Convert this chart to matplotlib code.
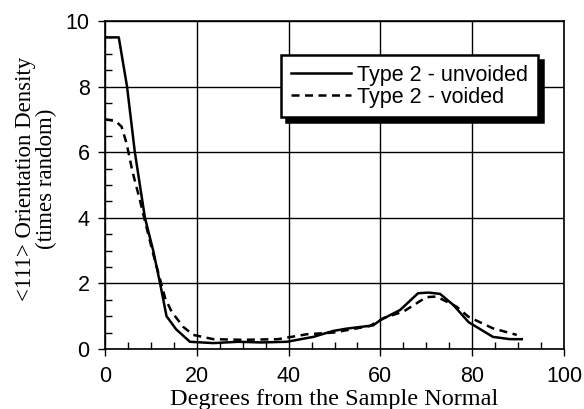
import matplotlib
matplotlib.use("Agg")
import matplotlib.pyplot as plt
from matplotlib.patches import Shadow
from matplotlib.ticker import MultipleLocator

# solid curve: Type 2 - unvoided
unvoided_deg = [0, 3, 4.8, 6.5, 7.6, 8.7, 10.5, 12, 13.4, 15.5, 18.5, 23.6, 29, 34, 39.6,
                45.4, 49.7, 52.6, 58.4, 60, 64.3, 68.2, 70.5, 73, 75.9, 79.2, 84.5, 88.2, 90.8]
unvoided_od = [9.5, 9.5, 8.0, 6.0, 5.0, 4.0, 3.0, 2.0, 1.0, 0.6, 0.22, 0.18, 0.22, 0.2, 0.22,
               0.37, 0.55, 0.62, 0.72, 0.88, 1.19, 1.7, 1.72, 1.68, 1.34, 0.82, 0.37, 0.3, 0.3]

# dashed curve: Type 2 - voided
voided_deg = [0, 2.3, 3.6, 4.7, 6.0, 7.6, 8.7, 10.5, 13.1, 14.5, 17, 19.2, 23.6, 30, 37.7,
              44, 49.7, 57.7, 60.6, 65, 70, 72.2, 76.6, 79.2, 84.5, 89.7]
voided_od = [7.0, 6.95, 6.78, 6.27, 5.4, 4.54, 3.9, 2.9, 1.55, 1.14, 0.68, 0.43, 0.3, 0.28, 0.3,
             0.45, 0.5, 0.7, 0.94, 1.14, 1.58, 1.6, 1.29, 0.98, 0.63, 0.43]

serif = ["Liberation Serif", "DejaVu Serif"]
sans = ["Liberation Sans", "DejaVu Sans"]

fig = plt.figure(figsize=(5.84, 4.09), dpi=100)
ax = fig.add_axes([0.1798, 0.1467, 0.786, 0.802])

ax.plot(unvoided_deg, unvoided_od, color="black", lw=1.8, label="Type 2 - unvoided")
ax.plot(voided_deg, voided_od, color="black", lw=1.8, ls=(0, (3.2, 2.2)), label="Type 2 - voided")

ax.set_xlim(0, 100)
ax.set_ylim(0, 10)
ax.xaxis.set_major_locator(MultipleLocator(20))
ax.yaxis.set_major_locator(MultipleLocator(2))
ax.xaxis.set_minor_locator(MultipleLocator(5))
ax.yaxis.set_minor_locator(MultipleLocator(0.5))
ax.grid(True, which="major", color="black", lw=1.0)
ax.tick_params(which="major", direction="out", length=5, width=1, labelsize=15.5)
ax.tick_params(axis="x", which="major", pad=7)
ax.tick_params(axis="y", which="major", pad=6)
ax.tick_params(which="minor", direction="in", length=5, width=1)
for lab in ax.get_xticklabels() + ax.get_yticklabels():
    lab.set_family(sans)
for s in ax.spines.values():
    s.set_linewidth(1.2)

ax.set_xlabel("Degrees from the Sample Normal", family=serif, fontsize=17.5, labelpad=2)
ax.set_ylabel("<111> Orientation Density\n(times random)", family=serif, fontsize=16.5,
              linespacing=0.95)
ax.yaxis.set_label_coords(-0.105, 0.52)

leg = ax.legend(loc="upper right", bbox_to_anchor=(538 / 584, 1 - 55 / 409),
                bbox_transform=fig.transFigure, borderaxespad=0, fancybox=False,
                framealpha=1, edgecolor="black",
                handlelength=2.8, handletextpad=0.3, borderpad=0.45, labelspacing=0.05,
                prop={"family": sans, "size": 15.5})
leg.get_frame().set_linewidth(1.8)

# solid black drop shadow like the original
fig.canvas.draw()
shadow = Shadow(leg.legendPatch, 3.5, -3.5, facecolor="black", edgecolor="black", alpha=1)
shadow.set_zorder(leg.get_zorder() - 0.01)
ax.add_artist(shadow)

fig.savefig("out.png", dpi=100, facecolor="white")
